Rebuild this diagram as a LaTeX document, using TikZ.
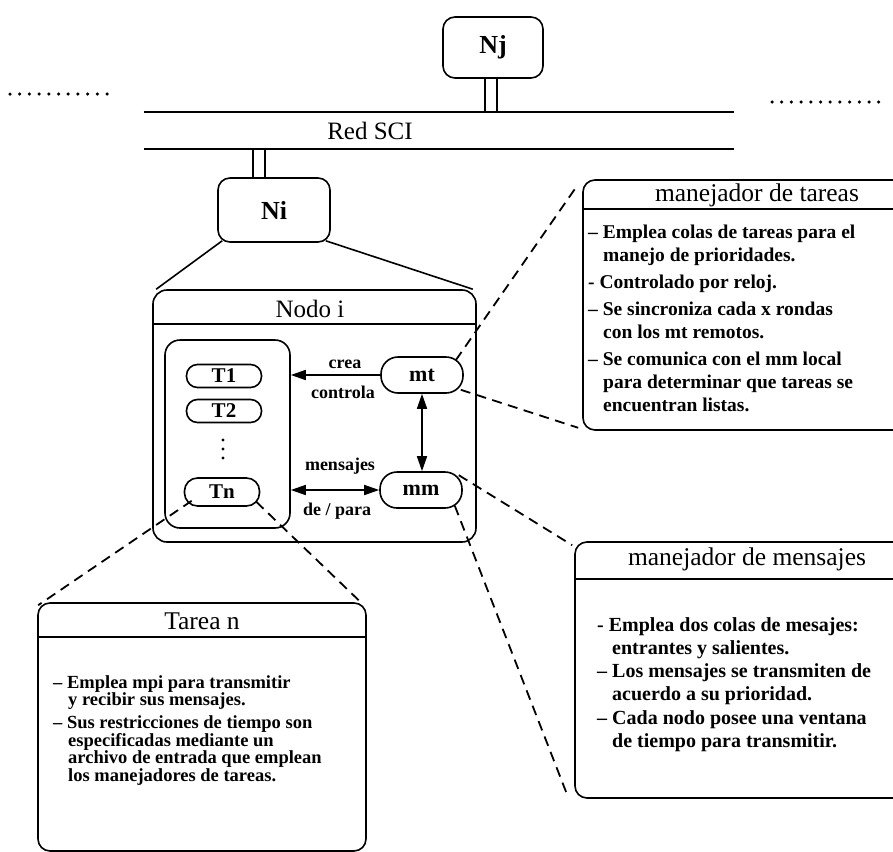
\documentclass[tikz,border=0pt]{standalone}
\usepackage{fontspec}
\setmainfont{Liberation Serif}
\usetikzlibrary{arrows.meta,calc}
\begin{document}
\begin{tikzpicture}[x=1pt,y=-1pt,
  box/.style={draw, line width=1.6pt, rounded corners=12pt, inner sep=0pt},
  pill/.style={draw, line width=1.6pt, rounded corners=11pt, inner sep=0pt, font=\fontsize{21}{21}\bfseries},
  lbl/.style={font=\fontsize{18}{18}\bfseries, inner sep=0pt},
  ttl/.style={font=\fontsize{25.5}{25.5}\selectfont, inner sep=0pt},
  body/.style={font=\fontsize{19.5}{23}\bfseries, align=left, anchor=north west, inner sep=0pt},
  dsh/.style={line width=1.8pt, dash pattern=on 10pt off 6.5pt},
  dots/.style={line width=3.5pt, line cap=round, dash pattern=on 0pt off 9.7pt},
  arr/.style={line width=1.6pt, -{Triangle[length=15pt,width=10pt]}},
  darr/.style={line width=1.6pt, {Triangle[length=15pt,width=10pt]}-{Triangle[length=15pt,width=10pt]}},
  lw/.style={line width=1.6pt}
]
\useasboundingbox (0,0) rectangle (893,851);
\clip (0,0) rectangle (893,851);

% dotted continuation lines
\coordinate (dl1) at (10,94);
\coordinate (dl2) at (108,94);
\coordinate (dr1) at (772,102);
\coordinate (dr2) at (888,102);
\draw[dots] (dl1) -- (dl2);
\draw[dots] (dr1) -- (dr2);

% Nj and network
\node[box, minimum width=100pt, minimum height=61pt, font=\fontsize{26}{26}\bfseries] (nj) at (493,47.5) {Nj};
\node[minimum width=590pt, minimum height=37pt, inner sep=0pt] (red) at (439,130.5) {};
\draw[lw] (red.north west) -- (red.north east);
\draw[lw] (red.south west) -- (red.south east);
\node[ttl, font=\fontsize{25}{25}\selectfont] (redlbl) at (370,131) {Red SCI};
\draw[lw] ([xshift=-8pt]nj.south) -- ([xshift=-8pt]nj.south |- red.north);
\draw[lw] ([xshift=4pt]nj.south) -- ([xshift=4pt]nj.south |- red.north);

% Ni
\node[box, minimum width=112pt, minimum height=64pt, font=\fontsize{26}{26}\bfseries] (ni) at (274,210) {Ni};
\draw[lw] ([xshift=-21pt]ni.north) -- ([xshift=-21pt]ni.north |- red.south);
\draw[lw] ([xshift=-9pt]ni.north) -- ([xshift=-9pt]ni.north |- red.south);

% Nodo i
\node[box, rounded corners=14pt, minimum width=323pt, minimum height=252pt] (nodo) at (314.5,416) {};
\draw[lw] ([yshift=-35pt]nodo.north west) -- ([yshift=-35pt]nodo.north east);
\node[ttl, font=\fontsize{25}{25}\selectfont] (nodot) at (310,309) {Nodo i};
\draw[lw] ([xshift=5pt,yshift=2pt]ni.south west) -- ([xshift=4pt]nodo.north west);
\draw[lw] ([xshift=-5pt,yshift=2pt]ni.south east) -- ([xshift=-4pt]nodo.north east);

% tasks
\node[box, rounded corners=15pt, minimum width=125pt, minimum height=188pt] (tbox) at (227.5,434) {};
\node[pill, minimum width=75pt, minimum height=23pt] (t1) at (224,376) {T1};
\node[pill, minimum width=75pt, minimum height=23pt] (t2) at (224,411) {T2};
\coordinate (vd) at (223,449);
\fill ([yshift=9pt]vd) circle (1.7pt);
\fill (vd) circle (1.7pt);
\fill ([yshift=-9pt]vd) circle (1.7pt);
\node[pill, rounded corners=13pt, minimum width=75pt, minimum height=28pt] (tn) at (222,492) {Tn};

% managers
\node[pill, rounded corners=17pt, minimum width=82pt, minimum height=36pt, font=\fontsize{22}{22}\bfseries] (mt) at (422,375) {mt};
\node[pill, rounded corners=17pt, minimum width=82pt, minimum height=36pt, font=\fontsize{22}{22}\bfseries] (mm) at (421,490) {mm};

\draw[arr] (mt.west) -- (mt.west -| tbox.east);
\draw[darr] (mt.south) -- (mt.south |- mm.north);
\draw[darr] (mm.west -| tbox.east) -- (mm.west);
\node[lbl] (crea) at (345,364) {crea};
\node[lbl] (controla) at (343,392) {controla};
\node[lbl] (mensajes) at (340,466) {mensajes};
\node[lbl] (depara) at (337,511) {de / para};

% manejador de tareas
\node[box, minimum width=332pt, minimum height=250pt] (mtbox) at (749,305) {};
\draw[lw] ([yshift=-30pt]mtbox.north west) -- ([yshift=-30pt]mtbox.north east);
\node[ttl] (mttitle) at (757,195) {manejador de tareas};
\node[body] (mtbody) at (588,225) {– Emplea colas de tareas para el\\
\hspace*{15pt}manejo de prioridades.\\[4pt]
- Controlado por reloj.\\[4pt]
– Se sincroniza cada x rondas\\
\hspace*{15pt}con los mt remotos.\\[4pt]
– Se comunica con el mm local\\
\hspace*{15pt}para determinar que tareas se\\
\hspace*{15pt}encuentran listas.};

% manejador de mensajes
\node[box, minimum width=340pt, minimum height=256pt] (mmbox) at (745,670) {};
\draw[lw] ([yshift=-38pt]mmbox.north west) -- ([yshift=-38pt]mmbox.north east);
\node[ttl] (mmtitle) at (747,559) {manejador de mensajes};
\node[body, font=\fontsize{20}{23.3}\bfseries] (mmbody) at (597,617) {- Emplea dos colas de mesajes:\\
\hspace*{15pt}entrantes y salientes.\\
– Los mensajes se transmiten de\\
\hspace*{15pt}acuerdo a su prioridad.\\
– Cada nodo posee una ventana\\
\hspace*{15pt}de tiempo para transmitir.};

% Tarea n
\node[box, minimum width=328pt, minimum height=248pt] (tbx) at (202,727) {};
\draw[lw] ([yshift=-35pt]tbx.north west) -- ([yshift=-35pt]tbx.north east);
\node[ttl] (tbtitle) at (202,621) {Tarea n};
\node[body, font=\fontsize{18.5}{17.7}\bfseries] (tbbody) at (53,675) {– Emplea mpi para transmitir\\
\hspace*{15pt}y recibir sus mensajes.\\[5pt]
– Sus restricciones de tiempo son\\
\hspace*{15pt}especificadas mediante un\\
\hspace*{15pt}archivo de entrada que emplean\\
\hspace*{15pt}los manejadores de tareas.};

% dashed zoom lines
\draw[dsh] ([xshift=-8pt,yshift=-4pt]mt.north east) -- ([xshift=-4pt,yshift=-5pt]mtbox.north west);
\draw[dsh] ([xshift=-3pt,yshift=4pt]mt.south east) -- ([xshift=-4pt,yshift=3pt]mtbox.south west);
\draw[dsh] ([xshift=-4pt,yshift=-4pt]mm.north east) -- ([xshift=-2pt,yshift=-4pt]mmbox.north west);
\draw[dsh] ([xshift=-8pt,yshift=3pt]mm.south east) -- ([xshift=-7pt,yshift=4pt]mmbox.south west);
\draw[dsh] ([xshift=8pt,yshift=6pt]tn.south west) -- ([xshift=1pt,yshift=-3pt]tbx.north west);
\draw[dsh] ([xshift=-4pt,yshift=5pt]tn.south east) -- ([xshift=-4pt,yshift=-2pt]tbx.north east);
\end{tikzpicture}
\end{document}
